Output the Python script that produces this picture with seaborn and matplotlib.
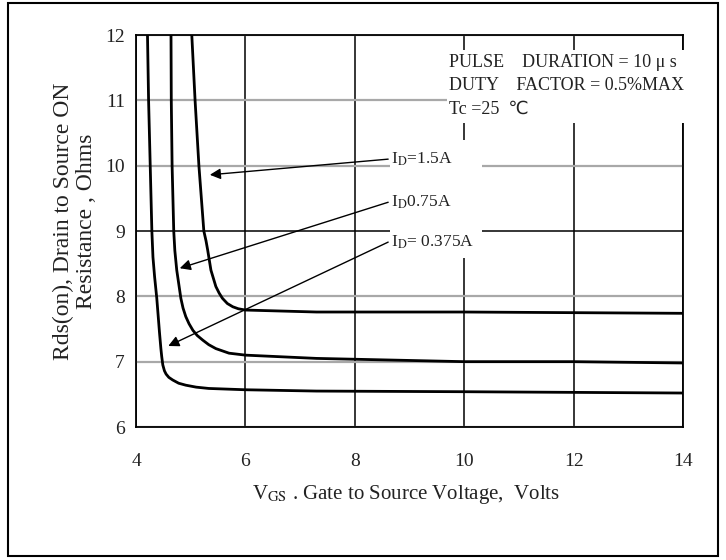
import matplotlib
matplotlib.use("Agg")
import matplotlib.pyplot as plt
from matplotlib.patches import Rectangle
import seaborn as sns
import pandas as pd

# ---------------- data ----------------
x_0375 = [4.21, 4.23, 4.26, 4.29, 4.31, 4.34, 4.38, 4.43, 4.455, 4.47, 4.49, 4.52, 4.55, 4.60, 4.67, 4.78, 4.91, 5.10, 5.33, 6.0, 7.3, 10.0, 12.0, 14.0]
y_0375 = [12.0, 11.0, 10.0, 9.0, 8.6, 8.3, 7.97, 7.44, 7.20, 7.08, 6.95, 6.86, 6.81, 6.76, 6.72, 6.67, 6.64, 6.61, 6.59, 6.57, 6.55, 6.54, 6.53, 6.52]

x_075 = [4.64, 4.645, 4.66, 4.69, 4.71, 4.745, 4.78, 4.82, 4.86, 4.91, 4.97, 5.04, 5.12, 5.22, 5.33, 5.46, 5.70, 6.0, 7.3, 10.0, 12.0, 14.0]
y_075 = [12.0, 11.0, 10.0, 9.0, 8.7, 8.4, 8.2, 7.97, 7.82, 7.69, 7.58, 7.48, 7.40, 7.33, 7.26, 7.20, 7.13, 7.10, 7.05, 7.00, 7.00, 6.98]

x_15 = [5.02, 5.08, 5.15, 5.24, 5.28, 5.31, 5.37, 5.46, 5.52, 5.58, 5.67, 5.77, 5.87, 6.0, 7.3, 10.0, 12.0, 14.0]
y_15 = [12.0, 11.0, 10.0, 9.0, 8.85, 8.71, 8.40, 8.15, 8.05, 7.97, 7.89, 7.84, 7.81, 7.79, 7.76, 7.76, 7.75, 7.74]

series_names = ["0.375A", "0.75A", "1.5A"]
x_ticks = [4, 6, 8, 10, 12, 14]
y_ticks = [6, 7, 8, 9, 10, 11, 12]

label_texts = ["I$_\\mathrm{D}$=1.5A", "I$_\\mathrm{D}$0.75A", "I$_\\mathrm{D}$= 0.375A"]
label_tails = [(8.61, 10.10), (8.61, 9.44), (8.61, 8.83)]
label_heads = [(5.35, 9.86), (4.80, 8.43), (4.59, 7.24)]

cond_lines = ["PULSE    DURATION = 10 \u03bc s",
              "DUTY    FACTOR = 0.5%MAX",
              "Tc =25  \u2103"]

# ---------------- frame ----------------
rows = []
for name, xs, ys in zip(series_names, [x_0375, x_075, x_15], [y_0375, y_075, y_15]):
    for xv, yv in zip(xs, ys):
        rows.append({"series": name, "Vgs": xv, "R": yv})
df = pd.DataFrame(rows)

sns.set_theme(style="white")
plt.rcParams["font.family"] = ["Liberation Serif", "DejaVu Sans", "Noto Sans CJK SC"]
plt.rcParams["mathtext.fontset"] = "stix"

fig = plt.figure(figsize=(7.26, 5.6), dpi=100)
ax = fig.add_axes([136/726, 1-427/560, (683-136)/726, (427-35)/560])

sns.lineplot(data=df, x="Vgs", y="R", hue="series", palette=["black"]*3,
             linewidth=2.0, legend=False, sort=False, estimator=None, ax=ax, zorder=4)
for ln in ax.lines:
    ln.set_solid_joinstyle("round")

ax.set_xlim(4, 14)
ax.set_ylim(6, 12)
ax.set_xticks(x_ticks)
ax.set_yticks(y_ticks)
ax.tick_params(axis="both", length=0, labelsize=14, colors="#222222")
ax.tick_params(axis="x", pad=19)
ax.tick_params(axis="y", pad=8)

ax.grid(axis="x", color="black", linewidth=1.1)
ax.grid(axis="y", color="#a8a8a8", linewidth=1.6)
for t, gl in zip(y_ticks, ax.yaxis.get_gridlines()):
    if t == 9:
        gl.set_color("black")
        gl.set_linewidth(1.1)
ax.set_axisbelow(True)

for s in ax.spines.values():
    s.set_color("black")
    s.set_linewidth(1.3)

ax.set_xlabel("V$_{\\mathrm{GS}}$ . Gate to Source Voltage,  Volts", fontsize=15, color="#222222")
ax.xaxis.set_label_coords(0.493, -0.172)
ax.xaxis.label.set_va("center")
ax.set_ylabel("Rds(on), Drain to Source ON\nResistance , Ohms", fontsize=17,
              color="#222222", linespacing=1.15)
ax.yaxis.set_label_coords(-0.112, 0.525)
ax.yaxis.label.set_va("center")

# white masks behind labels (gridlines interrupted in original)
ax.add_patch(Rectangle(((390-136)/547, (427-258)/392), (482-390)/547, (258-140)/392,
                       transform=ax.transAxes, facecolor="white", edgecolor="none", zorder=3))
ax.add_patch(Rectangle(((447-136)/547, (427-123)/392), (692-447)/547, (123-50)/392,
                       transform=ax.transAxes, facecolor="white", edgecolor="none",
                       zorder=3, clip_on=False))

for txt, tail, head in zip(label_texts, label_tails, label_heads):
    ax.annotate("", xy=head, xytext=tail,
                arrowprops=dict(arrowstyle="-|>", color="black", lw=1.0,
                                mutation_scale=16, shrinkA=0, shrinkB=0), zorder=5)
    ax.text(tail[0] + 0.06, tail[1], txt, fontsize=12.5, color="#222222",
            ha="left", va="center", zorder=6)

for i, line in enumerate(cond_lines):
    ax.text(0.572, 0.9286 - i * 0.0587, line, transform=ax.transAxes, fontsize=13,
            color="#222222", ha="left", va="center", zorder=6)

fig.patches.append(Rectangle((8/726, 1-556/560), (718-8)/726, (556-3)/560,
                             transform=fig.transFigure, fill=False, edgecolor="black",
                             linewidth=1.5))

fig.savefig("out.png", dpi=100, facecolor="white")
